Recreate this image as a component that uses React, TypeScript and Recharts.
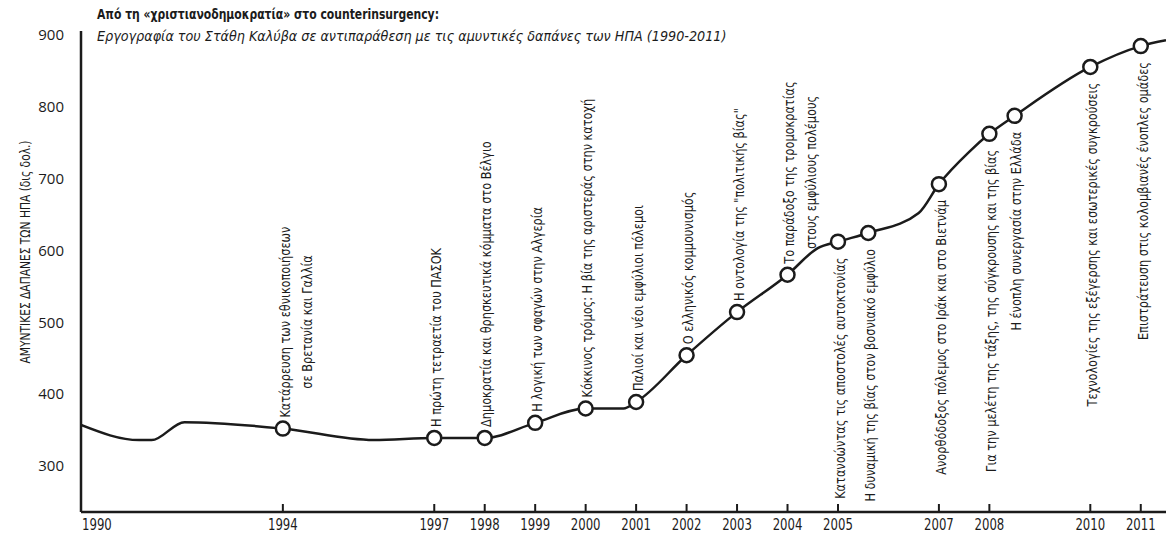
import React from 'react';
import { LineChart, Line, XAxis, YAxis, Customized } from 'recharts';

// spending curve (billion $)
const years = [1990, 1991.15, 1991.4, 1992.05, 1994, 1995.8, 1997, 1998, 1999, 2000, 2000.75, 2001, 2002, 2003, 2004, 2004.6, 2005, 2005.6, 2006.6, 2007, 2007.6, 2008, 2008.5, 2010, 2011, 2011.5];
const spending = [357, 336, 336, 361, 352, 336, 339, 339, 360, 380, 380, 389, 454, 514, 566, 603, 612, 624, 652, 692, 737, 762, 787, 855, 884, 892];

// publications marked on the curve
const eventYears = [1994, 1997, 1998, 1999, 2000, 2001, 2002, 2003, 2004, 2005, 2005.6, 2007, 2008, 2008.5, 2010, 2011];
const eventTitles: string[][] = [
  ['Κατάρρευση των εθνικοποιήσεων', 'σε Βρετανία και Γαλλία'],
  ['Η πρώτη τετραετία του ΠΑΣΟΚ'],
  ['Δημοκρατία και θρησκευτικά κόμματα στο Βέλγιο'],
  ['Η λογική των σφαγών στην Αλγερία'],
  ['Κόκκινος τρόμος: Η βία της αριστεράς στην κατοχή'],
  ['Παλιοί και νέοι εμφύλιοι πόλεμοι'],
  ['Ο ελληνικός κομμουνισμός'],
  ['Η οντολογία της "πολιτικής βίας"'],
  ['Το παράδοξο της τρομοκρατίας', 'στους εμφύλιους πολέμους'],
  ['Κατανοώντας τις αποστολές αυτοκτονίας'],
  ['Η δυναμική της βίας στον βοσνιακό εμφύλιο'],
  ['Ανορθόδοξος πόλεμος στο Ιράκ και στο Βιετνάμ'],
  ['Για την μελέτη της τάξης, της σύγκρουσης και της βίας'],
  ['Η ένοπλη συνεργασία στην Ελλάδα'],
  ['Τεχνολογίες της εξέγερσης και εσωτερικές συγκρούσεις'],
  ['Επιστράτευση στις κολομβιανές ένοπλες ομάδες'],
];

const yearTicks = [1990, 1994, 1997, 1998, 1999, 2000, 2001, 2002, 2003, 2004, 2005, 2007, 2008, 2010, 2011];
const valueTicks = [300, 400, 500, 600, 700, 800, 900];

const title = 'Από τη «χριστιανοδημοκρατία» στο counterinsurgency:';
const subtitle = 'Εργογραφία του Στάθη Καλύβα σε αντιπαράθεση με τις αμυντικές δαπάνες των ΗΠΑ (1990-2011)';
const yTitle = 'ΑΜΥΝΤΙΚΕΣ ΔΑΠΑΝΕΣ ΤΩΝ ΗΠΑ  (δις δολ.)';

const data = years.map((year, i) => {
  const k = eventYears.indexOf(year);
  return { year, value: spending[i], event: k >= 0 ? eventTitles[k] : null };
});

const INK = '#1b1b1b';
const NARROW = "'DejaVu Sans Condensed', 'DejaVu Sans', sans-serif";
const LABEL_SIZE = 14;
const SQUEEZE = 0.9; // horizontal squeeze to imitate a condensed face

let ctx: CanvasRenderingContext2D | null = null;
function textWidth(s: string) {
  if (!ctx) ctx = document.createElement('canvas').getContext('2d');
  if (!ctx) return s.length * 6.5;
  ctx.font = `${LABEL_SIZE}px 'DejaVu Sans Condensed', 'DejaVu Sans', sans-serif`;
  return ctx.measureText(s).width;
}

const EventDot = (props: any) => {
  const { cx, cy, payload, index } = props;
  if (!payload.event) return <g key={index} />;
  const lines: string[] = payload.event;
  const below = payload.year >= 2005;
  const gap = (below ? 16 : 11) / SQUEEZE;
  const w0 = textWidth(lines[0]);
  return (
    <g key={index}>
      <circle cx={cx} cy={cy} r={7} fill="#fff" stroke={INK} strokeWidth={2.5} />
      <g transform={`translate(${cx} ${cy}) rotate(-90) scale(${SQUEEZE} 1)`}>
        {lines.map((s, i) => (
          <text
            key={i}
            x={below ? -gap : i === 0 ? gap : gap + w0 / 2}
            y={2 + i * 22}
            textAnchor={below ? 'end' : i === 0 ? 'start' : 'middle'}
            dominantBaseline="central"
            fontFamily={NARROW}
            fontSize={LABEL_SIZE}
            fill={INK}
          >
            {s}
          </text>
        ))}
      </g>
    </g>
  );
};

const YearTick = (props: any) => {
  const { x, y, payload } = props;
  const first = payload.value === yearTicks[0];
  return (
    <g>
      {!first && <line x1={x} x2={x} y1={y} y2={y - 8} stroke={INK} strokeWidth={2} />}
      <text
        transform={`translate(${first ? x + 1 : x} ${y + 18}) scale(0.84 1)`}
        textAnchor={first ? 'start' : 'middle'}
        fontFamily={NARROW}
        fontSize={15.5}
        fill={INK}
      >
        {payload.value}
      </text>
    </g>
  );
};

const Titles = () => (
  <g>
    <text transform="translate(97 19) scale(0.83 1)" fontFamily={NARROW} fontWeight="bold" fontSize={14.5} fill={INK}>{title}</text>
    <text transform="translate(97 41) scale(0.98 1)" fontFamily={NARROW} fontStyle="italic" fontSize={14.5} fill={INK}>{subtitle}</text>
    <text transform="translate(25 252) rotate(-90) scale(0.88 1)" textAnchor="middle" dominantBaseline="central" fontFamily={NARROW} fontSize={13.5} fill={INK}>
      {yTitle}
    </text>
  </g>
);

export default function App() {
  return (
    <div style={{ position: 'absolute', left: 0, top: 0, background: '#fff' }}>
      <LineChart width={1168} height={533} data={data} margin={{ top: 31, right: 2, bottom: 0, left: 0 }}>
        <XAxis
          dataKey="year"
          type="number"
          domain={[1990, 2011.5]}
          ticks={yearTicks}
          interval={0}
          height={21}
          tickSize={0}
          tickMargin={0}
          tickLine={false}
          axisLine={{ stroke: INK, strokeWidth: 2.5 }}
          tick={<YearTick />}
          allowDataOverflow
        />
        <YAxis
          type="number"
          domain={[236, 905]}
          ticks={valueTicks}
          interval={0}
          width={81}
          tickSize={0}
          tickMargin={17}
          tickLine={false}
          axisLine={{ stroke: INK, strokeWidth: 2.5 }}
          tick={{ fill: INK, fontSize: 15, fontFamily: "'Open Sans', sans-serif" }}
          allowDataOverflow
        />
        <Line
          type="monotone"
          dataKey="value"
          stroke={INK}
          strokeWidth={2.5}
          dot={<EventDot />}
          activeDot={false}
          isAnimationActive={false}
        />
        <Customized component={<Titles />} />
      </LineChart>
    </div>
  );
}
